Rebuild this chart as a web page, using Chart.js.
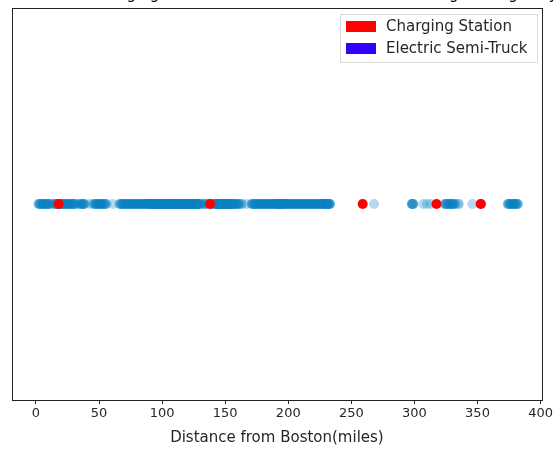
<!DOCTYPE html>
<html>
<head>
<meta charset="utf-8">
<script src="https://cdn.jsdelivr.net/npm/chart.js@4"></script>
<style>
  html, body { margin: 0; padding: 0; background: #fff; }
  #wrap { width: 555px; height: 450px; }
</style>
</head>
<body>
<div id="wrap"><canvas id="myChart" width="555" height="450"></canvas></div>
<script>
// 数据：充电站和电动半挂卡车距离波士顿的里程
var chartTitle = "Locations of Charging Stations and Electric Semi-Trucks along the Highway";
var xLabel = "Distance from Boston(miles)";
var legendLabels = ["Charging Station", "Electric Semi-Truck"];
var legendColors = ["#ff0000", "#3300ff"];
var xTicks = [0, 50, 100, 150, 200, 250, 300, 350, 400];

var stationMiles = [18, 138, 259, 317.5, 352.5];

// 卡车所在里程，以及该里程处的卡车数量
var truckMiles = [2, 3, 4, 5, 6, 7, 8, 9, 10, 11, 13, 15, 16, 17, 18, 19, 20, 21, 22, 23,
    24, 25, 26, 27, 28, 29, 30, 31, 33, 35, 36, 37, 38, 39, 43, 46, 47, 48, 49, 50,
    51, 52, 53, 54, 55, 56, 61, 66, 67, 68, 69, 70, 71, 72, 73, 74, 75, 76, 77, 78,
    79, 80, 81, 82, 83, 84, 85, 86, 87, 88, 89, 90, 91, 92, 93, 94, 95, 96, 97, 98,
    99, 100, 101, 102, 103, 104, 105, 106, 107, 108, 109, 110, 111, 112, 113, 114, 115, 116,
    117, 118, 119, 120, 121, 122, 123, 124, 125, 126, 127, 128, 129, 130, 132, 134, 136,
    139, 141, 142, 143, 144, 145, 146, 147, 148, 149, 150, 151, 152, 153, 154, 155, 156,
    157, 158, 159, 160, 161, 163, 167, 171, 172, 173, 174, 175, 176, 177, 178, 179, 180,
    181, 182, 183, 184, 185, 186, 187, 188, 189, 190, 191, 192, 193, 194, 195, 196, 197,
    198, 199, 200, 201, 202, 203, 204, 205, 206, 207, 208, 209, 210, 211, 212, 213, 214,
    215, 216, 217, 218, 219, 220, 221, 222, 223, 224, 225, 226, 227, 228, 229, 230, 231,
    232, 233,
    268, 298, 299, 307, 310, 313, 324, 325, 326, 327, 328, 329, 330, 331, 332, 335, 346, 353,
    374, 375, 376, 377, 378, 379, 380, 381, 382];
var truckCounts = [2, 2, 2, 2, 2, 2, 2, 2, 2, 2, 1, 2, 2, 2, 2, 2, 2, 2, 2, 2,
    2, 2, 2, 2, 2, 2, 2, 2, 1, 2, 2, 2, 2, 1, 1, 2, 2, 2, 2, 2,
    2, 2, 2, 2, 2, 1, 1, 1, 2, 2, 2, 2, 2, 2, 2, 2, 2, 2, 2, 2,
    2, 2, 2, 2, 2, 2, 2, 2, 2, 2, 3, 3, 3, 3, 3, 3, 3, 3, 3, 3,
    3, 3, 3, 3, 3, 3, 3, 3, 3, 3, 3, 3, 3, 3, 3, 3, 3, 3,
    3, 3, 3, 3, 3, 3, 3, 3, 3, 3, 3, 3, 3, 2, 2, 2, 2,
    2, 2, 3, 3, 3, 3, 3, 3, 3, 3, 3, 3, 3, 3, 3, 3, 3,
    2, 2, 2, 2, 2, 2, 1, 2, 2, 2, 2, 2, 2, 2, 2, 2, 2,
    2, 2, 2, 2, 2, 2, 2, 2, 2, 3, 3, 3, 3, 3, 3, 3, 3,
    2, 2, 2, 2, 2, 2, 2, 2, 2, 2, 2, 2, 2, 2, 2, 2, 2,
    2, 2, 2, 2, 2, 2, 2, 2, 2, 2, 2, 2, 2, 3, 3, 3, 3,
    3, 3,
    1, 3, 3, 1, 1, 1, 2, 2, 2, 2, 2, 2, 2, 2, 2, 2, 1, 2,
    2, 2, 2, 2, 2, 2, 2, 2, 2];

var truckPoints = [];
truckMiles.forEach(function(m, i) {
    for (var k = 0; k < truckCounts[i]; k++) truckPoints.push({ x: m, y: 0 });
});

var FONT = "'DejaVu Sans', sans-serif";

// 画坐标框、图例和被截掉的标题
var framePlugin = {
    id: "frame",
    afterDraw: function(chart) {
        var ctx = chart.ctx;
        var a = chart.chartArea;
        ctx.save();
        ctx.strokeStyle = "#222";
        ctx.lineWidth = 1;
        ctx.strokeRect(Math.round(a.left) + 0.5, Math.round(a.top) + 0.5,
            Math.round(a.right - a.left), Math.round(a.bottom - a.top));

        // 标题（大部分在画布外）
        ctx.fillStyle = "#000";
        ctx.font = "15px " + FONT;
        ctx.textAlign = "center";
        ctx.textBaseline = "alphabetic";
        ctx.fillText(chartTitle, (a.left + a.right) / 2, -1);

        // 图例
        var bx = 340, by = 14, bw = 197, bh = 48;
        ctx.fillStyle = "rgba(255,255,255,0.8)";
        ctx.strokeStyle = "#d9d9d9";
        ctx.beginPath();
        ctx.rect(bx + 0.5, by + 0.5, bw, bh);
        ctx.fill();
        ctx.stroke();
        ctx.textAlign = "left";
        ctx.textBaseline = "middle";
        ctx.font = "15px " + FONT;
        for (var i = 0; i < legendLabels.length; i++) {
            var cy = by + 12 + i * 22;
            ctx.fillStyle = legendColors[i];
            ctx.fillRect(bx + 6, cy - 5, 30, 11);
            ctx.fillStyle = "#262626";
            ctx.fillText(legendLabels[i], bx + 46, cy + 1);
        }
        ctx.restore();
    }
};

var canvas = document.getElementById("myChart");
var myChart = new Chart(canvas, {
    type: "scatter",
    data: {
        datasets: [{
            label: legendLabels[0],
            data: stationMiles.map(function(v) { return { x: v, y: 0 }; }),
            backgroundColor: "#ff0000",
            borderWidth: 0,
            pointRadius: 5,
            order: 0
        }, {
            label: legendLabels[1],
            data: truckPoints,
            backgroundColor: "rgba(10,128,196,0.3)",
            borderWidth: 0,
            pointRadius: 5,
            order: 1
        }]
    },
    options: {
        responsive: false,
        animation: false,
        maintainAspectRatio: false,
        layout: { padding: { left: 12, right: 10, top: 8, bottom: 3 } },
        plugins: {
            legend: { display: false },
            title: { display: false },
            tooltip: { enabled: false }
        },
        scales: {
            x: {
                type: "linear",
                min: -19,
                max: 401,
                afterBuildTicks: function(s) {
                    s.ticks = xTicks.map(function(v) { return { value: v }; });
                },
                afterFit: function(s) { s.height = 47; },
                grid: {
                    drawOnChartArea: false,
                    drawTicks: true,
                    tickLength: 4,
                    color: "#222"
                },
                border: { display: false },
                ticks: {
                    color: "#262626",
                    font: { family: FONT, size: 13 },
                    padding: 2,
                    maxRotation: 0,
                    autoSkip: false
                },
                title: {
                    display: true,
                    text: xLabel,
                    color: "#262626",
                    font: { family: FONT, size: 15 },
                    padding: { top: 2, bottom: 0 }
                }
            },
            y: {
                display: false,
                min: -1,
                max: 1
            }
        }
    },
    plugins: [framePlugin]
});
</script>
</body>
</html>
